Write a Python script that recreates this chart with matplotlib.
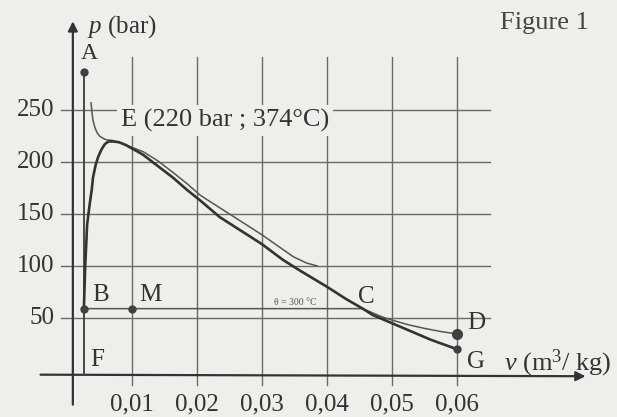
import numpy as np
import matplotlib.pyplot as plt

plt.rcParams['font.family'] = ['Liberation Serif', 'DejaVu Serif']
plt.rcParams['mathtext.fontset'] = 'custom'
plt.rcParams['mathtext.rm'] = 'Liberation Serif'
plt.rcParams['mathtext.it'] = 'Liberation Serif:italic'

# values: v in m3/kg, p in bar
v_liq = [0.0026, 0.0027, 0.0028, 0.0031, 0.0035, 0.0038, 0.0040, 0.0044, 0.0048, 0.0053, 0.0058, 0.0063, 0.0069]
p_liq = [60, 80, 100, 140, 160, 173, 185, 197, 205, 212, 217, 219.5, 220]

v_vap = [0.0069, 0.0080, 0.0090, 0.0103, 0.0117, 0.0140, 0.0163, 0.0185, 0.0205, 0.0235, 0.0270,
         0.0300, 0.0332, 0.0360, 0.0400, 0.0430, 0.0455, 0.0470, 0.0500, 0.0530, 0.0560, 0.0600]
p_vap = [220, 219, 216.5, 212, 207, 196, 185, 173, 163, 147, 133,
         121, 106, 95, 80, 68, 59, 53, 45, 37, 29, 20]

# critical isotherm (374 C)
v_crit = [0.0037, 0.0038, 0.0040, 0.0043, 0.0046, 0.0050, 0.0055, 0.0060, 0.0066, 0.0080, 0.0100, 0.0117,
          0.0140, 0.0163, 0.0185, 0.0205, 0.0235, 0.0270, 0.0300, 0.0325, 0.0348, 0.0368, 0.0385]
p_crit = [257, 250, 240, 233, 228.5, 225, 223, 221.5, 221, 219, 214, 210,
          201, 190, 179, 168, 156, 142, 130, 119, 109, 103, 100]

# 300 C isotherm B -> C -> D
v_iso = [0.0026, 0.0455, 0.0470, 0.0485, 0.0500, 0.0525, 0.0550, 0.0575, 0.0600]
p_iso = [59, 59, 55, 51, 48, 43.5, 40, 37, 34.6]

x_ticks = [0.01, 0.02, 0.03, 0.04, 0.05, 0.06]
x_labels = ['0,01', '0,02', '0,03', '0,04', '0,05', '0,06']
y_ticks = [50, 100, 150, 200, 250]

points = {'A': (0.0026, 287), 'B': (0.0026, 59), 'M': (0.01, 59), 'D': (0.06, 34.6), 'G': (0.06, 20)}

bg = '#eeeeec'
ink = '#333333'
fig = plt.figure(figsize=(6.17, 4.17), dpi=100, facecolor=bg)
ax = fig.add_axes([0, 0, 1, 1])
ax.set_facecolor(bg)
ax.set_xlim(-67 / 6500, 550 / 6500)
ax.set_ylim(-45.2, 355.8)
ax.axis('off')

# grid
for xt in x_ticks:
    ax.plot([xt, xt], [-14, 301], color='#6a6a6a', lw=1.0, zorder=1)
for yt in y_ticks:
    ax.plot([-0.001, 0.065], [yt, yt], color='#6a6a6a', lw=1.0, zorder=1)

# axes with arrows
ax.annotate('', xy=(0.0802, -6), xytext=(-0.0045, -4.5),
            arrowprops=dict(arrowstyle='-|>', color=ink, lw=1.6, mutation_scale=14), zorder=3)
ax.annotate('', xy=(0.0009, 338), xytext=(0.0009, -36),
            arrowprops=dict(arrowstyle='-|>', color=ink, lw=1.6, mutation_scale=14), zorder=3)

# tick labels
for xt, lab in zip(x_ticks, x_labels):
    ax.text(xt, -33.5, lab, ha='center', va='center', fontsize=18, color=ink)
for yt in y_ticks:
    ax.text(-0.0019, yt, str(yt), ha='right', va='center', fontsize=18, color=ink)

# vertical A-F line
ax.plot([0.0026, 0.0026], [287, -5], color='#484848', lw=1.4, zorder=4)

# curves
ax.plot(v_iso, p_iso, color='#555555', lw=1.1, zorder=4)
ax.plot(v_crit, p_crit, color='#555555', lw=1.1, zorder=4)
ax.plot(v_liq, p_liq, color='#333333', lw=1.9, zorder=5, solid_joinstyle='round')
ax.plot(v_vap, p_vap, color='#333333', lw=1.9, zorder=5, solid_joinstyle='round')

# points
for name, (pv, pp) in points.items():
    ms = 7 if name == 'D' else 5
    ax.plot(pv, pp, 'o', color='#404040', ms=ms, zorder=6)

# letters
ax.text(0.0034, 304, 'A', ha='center', va='center', fontsize=17, color=ink)
ax.text(0.0051, 72, 'B', ha='center', va='center', fontsize=18, color=ink)
ax.text(0.0129, 72, 'M', ha='center', va='center', fontsize=18, color=ink)
ax.text(0.0046, 9.6, 'F', ha='center', va='center', fontsize=18, color=ink)
ax.text(0.046, 70, 'C', ha='center', va='center', fontsize=18, color=ink)
ax.text(0.0615, 45, 'D', ha='left', va='center', fontsize=18, color=ink)
ax.text(0.0615, 8, 'G', ha='left', va='center', fontsize=18, color=ink)
ax.text(0.0351, 65, 'θ = 300 °C', ha='center', va='center', fontsize=7, color='#555555', zorder=5)

ax.text(0.0083, 240, 'E (220 bar ; 374°C)', ha='left', va='center', fontsize=19, color=ink,
        bbox=dict(facecolor=bg, edgecolor='none', pad=3), zorder=3)

ax.text(0.0031, 330, '$p$ (bar)', ha='left', va='center', fontsize=18, color=ink)
ax.text(0.0672, 6.7, '$v$ (m$^3$/ kg)', ha='left', va='center', fontsize=19, color=ink)
ax.text(0.0735, 334, 'Figure 1', ha='center', va='center', fontsize=19, color='#444444')

fig.savefig('out.png', dpi=100, facecolor=bg)
